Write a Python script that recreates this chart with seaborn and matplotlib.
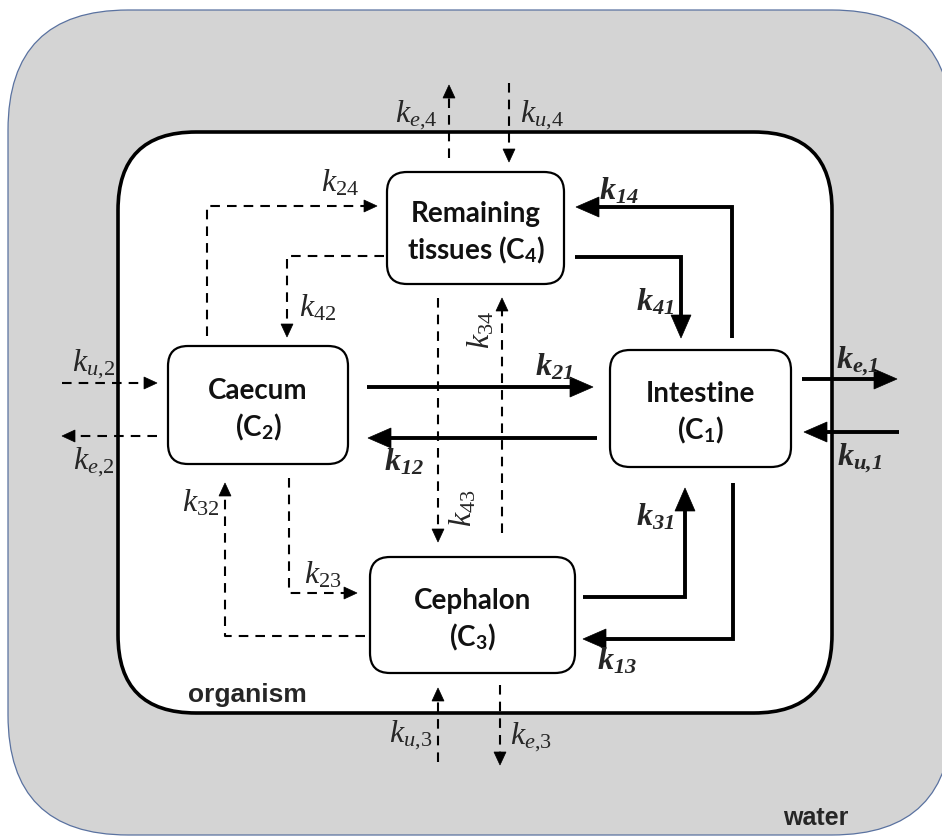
import numpy as np
import seaborn as sns
import matplotlib
matplotlib.use("Agg")
import matplotlib.pyplot as plt
from matplotlib.patches import FancyBboxPatch, Polygon

sns.set_style("white")
plt.rcParams['mathtext.fontset'] = 'custom'
plt.rcParams['mathtext.rm'] = 'Liberation Serif'
plt.rcParams['mathtext.it'] = 'Liberation Serif:italic'
plt.rcParams['mathtext.bf'] = 'Liberation Serif:italic:bold'
plt.rcParams['mathtext.sf'] = 'Lato:bold'
plt.rcParams['font.family'] = ['Lato', 'DejaVu Sans']

# compartments: name, index
comp_names = ["Intestine", "Caecum", "Cephalon", "Remaining\ntissues"]
comp_index = ["1", "2", "3", "4"]
# box extents (x0, y0, x1, y1) in pixels
comp_boxes = [(610, 350, 791, 467), (168, 346, 348, 464),
              (370, 557, 575, 673), (387, 172, 564, 284)]

# exchange labels
solid_labels = ["21", "12", "14", "41", "31", "13", "e{,}1", "u{,}1"]
dashed_labels = ["24", "42", "43", "34", "23", "32",
                 "u{,}2", "e{,}2", "e{,}4", "u{,}4", "u{,}3", "e{,}3"]

# arrow paths (pixel polylines, last point = tip)
solid_paths = [
    [(367, 387), (593, 387)],
    [(597, 438), (368, 438)],
    [(732, 338), (732, 207), (576, 207)],
    [(575, 257), (681, 257), (681, 338)],
    [(583, 597), (685, 597), (685, 488)],
    [(733, 483), (733, 639), (583, 639)],
    [(802, 379), (897, 379)],
    [(899, 432), (804, 432)],
]
solid_text = [(554, 367), (404, 462), (619, 191), (655, 302),
              (655, 517), (617, 661), (857, 361), (860, 458)]

dashed_paths = [
    [(207, 336), (207, 206), (377, 206)],
    [(384, 256), (287, 256), (287, 337)],
    [(438, 298), (438, 542)],
    [(502, 533), (502, 298)],
    [(289, 478), (289, 593), (357, 593)],
    [(365, 636), (225, 636), (225, 483)],
    [(62, 383), (157, 383)],
    [(157, 436), (62, 436)],
    [(449, 158), (449, 85)],
    [(509, 83), (509, 162)],
    [(438, 762), (438, 688)],
    [(500, 685), (500, 765)],
]
dashed_text = [(340, 183), (318, 308), (463, 508), (481, 330),
               (323, 575), (201, 503), (94, 364), (94, 462),
               (416, 115), (542, 115), (411, 735), (531, 737)]
dashed_rot = [0, 0, 90, 90, 0, 0, 0, 0, 0, 0, 0, 0]

fig = plt.figure(figsize=(9.42, 8.39), dpi=100)
ax = fig.add_axes([0, 0, 1, 1])
ax.set_xlim(0, 942)
ax.set_ylim(839, 0)
ax.axis("off")

# water and organism
ax.add_patch(FancyBboxPatch((8, 10), 944, 825,
                            boxstyle="round,pad=0,rounding_size=120",
                            fc="#d4d4d4", ec="#5a72a0", lw=0.9))
ax.add_patch(FancyBboxPatch((118, 132), 714, 581,
                            boxstyle="round,pad=0,rounding_size=78",
                            fc="white", ec="black", lw=2.6))


def arrow(pts, solid=True):
    pts = np.array(pts, dtype=float)
    if solid:
        L, W, lw, ls = 23, 20, 2.8, "-"
    else:
        L, W, lw, ls = 13, 12, 1.5, (0, (4.6, 3.4))
    tip = pts[-1]
    d = tip - pts[-2]
    d = d / np.hypot(*d)
    n = np.array([-d[1], d[0]])
    base = tip - d * L
    line = np.vstack([pts[:-1], base + d * 2])
    ax.plot(line[:, 0], line[:, 1], color="black", lw=lw, ls=ls,
            solid_capstyle="butt", dash_capstyle="butt",
            solid_joinstyle="miter")
    ax.add_patch(Polygon([tip, base + n * W / 2, base - n * W / 2],
                         closed=True, fc="black", ec="black", lw=0.5))


for p in solid_paths:
    arrow(p, True)
for p in dashed_paths:
    arrow(p, False)

for lab, (x, y) in zip(solid_labels, solid_text):
    ax.text(x, y, r"$\mathbf{k_{%s}}$" % lab, fontsize=23,
            ha="center", va="center")
for lab, (x, y), r in zip(dashed_labels, dashed_text, dashed_rot):
    ax.text(x, y, r"$k_{%s}$" % lab, fontsize=23, ha="center",
            va="center", rotation=r)

for name, idx, (x0, y0, x1, y1) in zip(comp_names, comp_index, comp_boxes):
    ax.add_patch(FancyBboxPatch((x0, y0), x1 - x0, y1 - y0,
                                boxstyle="round,pad=0,rounding_size=20",
                                fc="white", ec="black", lw=1.6))
    cx, cy = (x0 + x1) / 2, (y0 + y1) / 2
    parts = name.split("\n")
    if len(parts) == 1:
        first, second = parts[0], r"(C$_\mathsf{%s}$)" % idx
    else:
        first, second = parts[0], parts[1] + r" (C$_\mathsf{%s}$)" % idx
    ax.text(cx, cy - 6, first, fontsize=20, fontweight="bold",
            ha="center", va="baseline", color="#111111")
    ax.text(cx, cy + 31, second, fontsize=20, fontweight="bold",
            ha="center", va="baseline", color="#111111")

ax.text(188, 702, "organism", fontsize=19, fontweight="bold",
        family="Liberation Sans", ha="left", va="baseline")
ax.text(816, 825, "water", fontsize=18, fontweight="bold",
        family="Liberation Sans", ha="center", va="baseline")

fig.savefig("out.png", dpi=100)
